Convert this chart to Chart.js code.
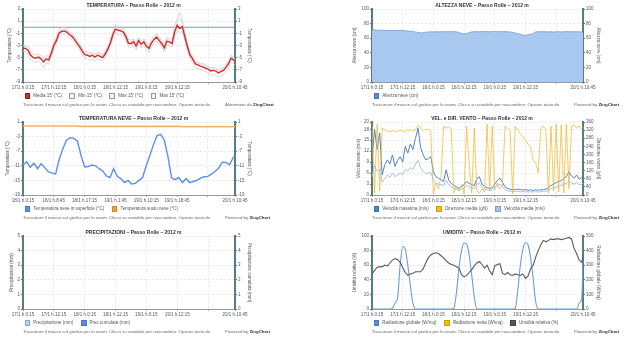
<!DOCTYPE html>
<html><head><meta charset="utf-8">
<script src="https://cdn.jsdelivr.net/npm/chart.js@4.4.1/dist/chart.umd.min.js"></script>
<style>
html,body{margin:0;padding:0;background:#fff;width:640px;height:342px;overflow:hidden;font-family:'Liberation Sans',Arial,sans-serif;}
canvas{position:absolute;}
.ttl{position:absolute;height:7px;line-height:7px;font-size:5px;font-weight:bold;color:#333;white-space:nowrap;transform:translateX(-50%);}
.leg{position:absolute;height:6px;display:flex;align-items:center;font-size:4.5px;color:#555;white-space:nowrap;}
.leg .it{display:flex;align-items:center;margin-right:7.5px;}
.leg .bx{width:3.8px;height:3.8px;border:0.7px solid #888;margin-right:3px;}
.ft{position:absolute;height:6px;line-height:6px;font-size:4.4px;color:#666;white-space:nowrap;}
.ft b{color:#333;}
</style>
</head><body>
<script>
// ---------- DATA ----------
const HOURS_A = Array.from({length: 83}, (_, i) => i).concat([82.5]); // 17/1 h.0:15 -> 20/1 h.10:45
const HOURS_B = Array.from({length: 59}, (_, i) => i).concat([58.5]); // 18/1 h.0:15 -> 20/1 h.10:45

const TICK_HOURS_A = [0, 12, 24, 36, 48, 60, 72, 82.5];
const TICK_LABELS_A = ['17/1 h.0:15','17/1 h.12:15','18/1 h.0:15','18/1 h.12:15','19/1 h.0:15','19/1 h.12:15','','20/1 h.10:45'];
const TICK_HOURS_B = [0, 8.5, 17, 25.5, 34, 42.5, 51, 58.5];
const TICK_LABELS_B = ['18/1 h.0:15','18/1 h.8:45','18/1 h.17:15','19/1 h.1:45','19/1 h.10:15','19/1 h.18:45','','20/1 h.10:45'];

const TEMP_MEDIA = [
 -3.4,-3.5,-3.8,-4.6,-5.0,-5.1,-4.9,-5.2,-5.7,-5.2,
 -5.4,-4.3,-3.0,-2.2,-1.0,-0.7,-0.6,-0.8,-1.2,-1.5,
 -2.0,-2.6,-3.2,-3.9,-4.5,-4.6,-4.8,-4.6,-4.9,-4.6,
 -4.8,-5.0,-4.4,-3.6,-2.6,-1.2,-0.3,-0.5,-0.6,-0.8,
 -1.5,-2.6,-2.7,-2.4,-3.1,-2.2,-2.8,-2.4,-3.1,-3.5,
 -2.6,-2.0,-1.6,-2.2,-2.7,-3.4,-2.3,-2.4,-2.7,-0.8,
  0.3,-0.2, 0.1,-1.6,-3.2,-4.6,-5.2,-6.0,-6.2,-6.4,
 -6.5,-6.7,-6.9,-7.2,-7.1,-7.2,-7.5,-7.3,-7.1,-6.6,
 -6.0,-5.1,-5.4,-5.6];
const TEMP_MIN = [
 -3.9,-4.0,-4.4,-5.3,-5.6,-5.8,-5.5,-5.9,-6.6,-5.9,
 -6.1,-4.9,-3.6,-2.7,-1.5,-1.2,-1.1,-1.3,-1.7,-2.0,
 -2.5,-3.1,-3.7,-4.4,-5.1,-5.2,-5.4,-5.2,-5.5,-5.2,
 -5.4,-5.6,-5.0,-4.1,-3.1,-1.8,-0.9,-1.1,-1.2,-1.3,
 -2.1,-3.2,-3.3,-3.0,-3.7,-2.8,-3.4,-3.0,-3.7,-4.1,
 -3.2,-2.6,-2.2,-2.8,-3.3,-4.0,-2.9,-3.0,-3.3,-1.5,
 -0.5,-0.9,-0.7,-2.3,-3.9,-5.2,-5.8,-6.6,-6.8,-7.0,
 -7.1,-7.3,-7.5,-7.9,-7.8,-7.9,-8.2,-8.0,-7.8,-7.3,
 -6.6,-5.7,-6.0,-6.2];
const TEMP_MAX = [
 -2.9,-3.0,-3.2,-4.0,-4.4,-4.5,-4.3,-4.6,-5.0,-4.6,
 -4.8,-3.7,-2.4,-1.6,-0.4,-0.1, 0.0,-0.3,-0.7,-1.0,
 -1.5,-2.1,-2.7,-3.4,-4.0,-4.1,-4.3,-4.1,-4.4,-4.1,
 -4.3,-4.5,-3.9,-3.1,-2.0,-0.6, 0.4, 0.1, 0.0,-0.3,
 -1.0,-2.0,-2.1,-1.9,-2.5,-1.6,-2.2,-1.8,-2.5,-2.9,
 -2.0,-1.4,-1.0,-1.6,-2.1,-2.8,-1.7,-1.8,-2.0, 0.2,
  1.4, 2.4, 1.2,-0.9,-2.6,-4.0,-4.7,-5.4,-5.7,-5.9,
 -6.0,-6.2,-6.4,-6.7,-6.6,-6.7,-7.0,-6.8,-6.6,-6.1,
 -5.5,-4.6,-4.9,-5.1];
const TEMP_MAX2 = [
 -3.1,-3.2,-3.5,-4.3,-4.7,-4.8,-4.6,-4.9,-5.3,-4.9,
 -5.1,-4.0,-2.7,-1.9,-0.7,-0.4,-0.3,-0.5,-0.9,-1.2,
 -1.7,-2.3,-2.9,-3.6,-4.2,-4.3,-4.5,-4.3,-4.6,-4.3,
 -4.5,-4.7,-4.1,-3.3,-2.3,-0.9, 0.0,-0.2,-0.3,-0.5,
 -1.2,-2.3,-2.4,-2.1,-2.8,-1.9,-2.5,-2.1,-2.8,-3.2,
 -2.3,-1.7,-1.3,-1.9,-2.4,-3.1,-2.0,-2.1,-2.4,-0.3,
  0.8, 1.5, 0.6,-1.3,-2.9,-4.3,-4.9,-5.7,-5.9,-6.1,
 -6.2,-6.4,-6.6,-6.9,-6.8,-6.9,-7.2,-7.0,-6.8,-6.3,
 -5.7,-4.8,-5.1,-5.3];

const SNOW_HEIGHT = [
 71,71.5,71,70.8,71,70.6,70.8,70.5,70.7,
 70.5,70.6,70.3,70.6,70.2,69.8,69.5,
 69,68.5,67.8,67.2,67.5,68.2,68.5,
 68.8,68.6,68.9,68.7,68.8,68.9,68.7,68.8,68.9,69,68.7,
 67.8,66.5,65.8,66.3,67.8,
 68.6,68.8,69,68.8,69,68.9,69,68.8,69,69.1,68.9,69,68.8,69,68.7,68.5,68,
 67,66.2,65.5,64.5,63.5,64.8,65.2,66.5,68.5,
 69,68.8,69,68.8,68.6,68.8,68.4,68.7,68.9,68.6,68.8,68.9,68.7,68.9,68.8,68.9,68.7,68.5,
 67];

const SNOW_SURF = [
 -10.8,-9.9,-11.4,-10.3,-11.8,-10.4,-11.5,-12.6,-13.0,-13.2,
 -9.2,-6.3,-4.0,-3.3,-3.5,-4.2,-8.1,-11.3,-11.2,-10.8,
 -11.0,-11.8,-12.4,-13.8,-14.2,-11.8,-13.9,-14.5,-15.6,-15.0,
 -16.0,-15.8,-15.0,-14.2,-11.0,-8.2,-5.2,-2.7,-2.4,-4.0,
 -8.5,-14.3,-14.8,-14.2,-15.6,-14.5,-15.6,-15.3,-15.0,-14.4,
 -14.0,-13.9,-13.3,-12.5,-11.6,-10.0,-10.1,-10.7,-8.8,-8.3];
const SNOW_SOIL = [
 -0.1,-0.1,-0.1,-0.1,-0.1,-0.1,-0.1,-0.1,-0.1,-0.1,
 -0.1,-0.1,-0.1,-0.1,-0.1,-0.1,-0.2,-0.2,-0.2,-0.2,
 -0.2,-0.2,-0.2,-0.2,-0.2,-0.2,-0.2,-0.2,-0.2,-0.2,
 -0.2,-0.2,-0.2,-0.2,-0.2,-0.2,-0.2,-0.2,-0.2,-0.2,
 -0.2,-0.2,-0.2,-0.2,-0.3,-0.3,-0.3,-0.3,-0.3,-0.3,
 -0.3,-0.3,-0.3,-0.3,-0.3,-0.3,-0.3,-0.3,-0.3,-0.3];

const WIND_MAX = [
 9.0,18.0,12.5,17.0,5.5,8.3,9.6,8.5,11.0,7.8,
 9.5,10.5,9.0,13.3,11.5,14.0,12.4,15.5,18.3,13.0,
 11.0,9.6,10.0,10.5,6.4,5.0,4.6,4.2,3.7,6.9,
 4.1,3.2,2.6,2.2,1.8,2.4,2.8,3.7,3.2,2.8,
 2.6,4.5,5.0,3.0,2.3,2.0,1.8,1.9,3.0,4.0,
 4.6,3.5,2.2,1.8,1.6,1.4,1.5,1.6,1.5,1.4,
 1.5,1.3,1.4,1.2,1.4,1.3,1.4,1.5,1.6,2.0,
 2.6,3.0,3.4,3.7,4.0,4.5,5.0,6.4,5.2,4.6,
 5.5,4.3,4.8,5.0];
const WIND_DIR = [
 340,10,350,20,330,320,315,312,318,310,
 315,320,316,312,322,318,315,320,345,330,
 318,322,325,310,5,60,30,90,340,330,
 335,325,10,40,20,50,5,340,150,10,
 330,20,10,30,15,350,20,340,25,60,
 30,45,340,330,320,5,340,320,300,290,
 270,250,240,170,160,110,330,340,320,10,
 340,20,350,15,345,10,350,30,340,345,
 330,340,325,335];
const WIND_AVG = [
 5.0,8.0,6.5,7.0,3.5,4.5,5.5,4.8,6.0,5.0,
 5.5,6.0,5.5,7.0,6.5,7.5,7.0,8.5,9.5,7.5,
 6.5,5.8,6.0,6.2,4.0,3.2,3.0,2.8,2.5,4.0,
 2.8,2.2,1.8,1.5,1.2,1.6,1.9,2.5,2.2,1.9,
 1.8,3.0,3.3,2.0,1.6,1.4,1.2,1.3,2.0,2.6,
 3.0,2.3,1.5,1.2,1.0,0.9,1.0,1.0,0.9,0.9,
 1.0,0.8,0.9,0.8,0.9,0.8,0.9,1.0,1.0,1.3,
 1.7,2.0,2.2,2.4,2.6,3.0,3.2,3.8,3.3,3.0,
 3.4,2.8,3.0,3.2];

const PRECIP = [];
const PRECIP_CUM = [];

const HUMIDITY = [
 48,53,57,58,58,60,59,63,67,69,
 68,64,57,50,46,48,49,51,51,51,
 55,63,70,74,76,77,76,73,70,66,
 63,61,60,58,56,47,44,46,50,54,
 59,63,65,61,56,60,52,47,59,61,
 62,49,47,50,47,46,48,47,46,48,
 42,45,55,60,71,80,88,94,92,94,
 96,95,96,96,95,96,97,98,96,83,
 76,67,64,71];
const RADIATION = [
 0,0,0,0,0,0,0,0,5,40,
 75,300,428,410,300,160,40,0,0,0,
 0,0,0,0,0,0,0,0,0,0,
 0,0,5,110,280,400,452,445,370,230,
 80,0,0,0,0,0,0,0,0,0,
 0,0,0,0,0,0,5,130,300,410,
 455,440,350,210,50,0,0,0,0,0,
 0,0,0,0,0,0,0,0,0,0,
 0,40,70,330];
const RAD_NET = [];

// ---------- LAYOUT ----------
const COLS = [{canvasLeft: 0, plotLeft: 23, plotW: 212}, {canvasLeft: 349, plotLeft: 372, plotW: 211}];
const ROWS = [0, 113, 227];
const CANVAS_W = 254, CANVAS_H = 95, PAD_TOP = 9, YL_W = 23;
const TEAL = '#557f7f';
const TICK_FONT = 4.5, AXT_FONT = 4.5;

Chart.defaults.font.family = "'Liberation Sans', Arial, sans-serif";
Chart.defaults.font.size = TICK_FONT;
Chart.defaults.color = '#555';

const refLinePlugin = {
  id: 'refLine',
  beforeDatasetsDraw(chart) {
    const v = chart.config.options.refLineValue;
    if (v === undefined) return;
    const y = chart.scales.y.getPixelForValue(v);
    const ctx = chart.ctx, a = chart.chartArea;
    ctx.save(); ctx.strokeStyle = '#7f9c9c'; ctx.lineWidth = 1;
    ctx.beginPath(); ctx.moveTo(a.left, y); ctx.lineTo(a.right, y); ctx.stroke(); ctx.restore();
  }
};

function pts(hours, vals) { return vals.map((v, i) => ({x: hours[i], y: v})); }

const PANELS = [
 { col:0, row:0, title:'TEMPERATURA – Passo Rolle – 2012 m', xTicks:TICK_HOURS_A, xLabels:TICK_LABELS_A, xMax:82.5,
   yL:{min:-9,max:3,ticks:[-9,-7,-5,-3,-1,1,3],title:'Temperatura (°C)',tx:10},
   yR:{min:-9,max:3,ticks:[-9,-7,-5,-3,-1,1,3],title:'Temperatura (°C)'},
   ref:0, powered:'Alimentato da',
   ds:[
    {label:"Media 15' (°C)", h:HOURS_A, d:TEMP_MEDIA, c:'#d42a2a', w:1.4, box:['#d42a2a','#9a1a1a']},
    {label:"Min 15' (°C)", h:HOURS_A, d:TEMP_MIN, c:'#cdcdcd', w:0.8, box:['#f2f2f2','#999']},
    {label:"Max 15' (°C)", h:HOURS_A, d:TEMP_MAX, c:'#cdcdcd', w:0.8, box:['#f2f2f2','#999']},
    {label:"Max 15' (°C)", h:HOURS_A, d:TEMP_MAX2, c:'#d6d6d6', w:0.8, box:['#f2f2f2','#999']}
   ]},
 { col:1, row:0, title:'ALTEZZA NEVE – Passo Rolle – 2012 m', xTicks:TICK_HOURS_A, xLabels:TICK_LABELS_A, xMax:82.5,
   yL:{min:0,max:100,ticks:[0,20,40,60,80,100],title:'Altezza neve (cm)',tx:6},
   yR:{min:0,max:100,ticks:[0,20,40,60,80,100],title:'Altezza neve (cm)'},
   powered:'Powered by',
   ds:[
    {label:'Altezza neve (cm)', h:HOURS_A, d:SNOW_HEIGHT, c:'#7ea9de', w:1, fill:'#a8c8ef', box:['#5b8bd0','#4a78bb']}
   ]},
 { col:0, row:1, title:'TEMPERATURA NEVE – Passo Rolle – 2012 m', xTicks:TICK_HOURS_B, xLabels:TICK_LABELS_B, xMax:58.5,
   yL:{min:-19,max:1,ticks:[-19,-15,-11,-7,-3,1],title:'Temperatura (°C)',tx:7.3},
   yR:{min:-19,max:1,ticks:[-19,-15,-11,-7,-3,1],title:'Temperatura (°C)'},
   powered:'Powered by',
   ds:[
    {label:'Temperatura neve in superficie (°C)', h:HOURS_B, d:SNOW_SURF, c:'#5c8fee', w:1.4, box:['#5c8fee','#4a78d0']},
    {label:'Temperatura suolo neve (°C)', h:HOURS_B, d:SNOW_SOIL, c:'#f2b366', w:1.6, box:['#f0a030','#d08820']}
   ]},
 { col:1, row:1, title:'VEL. e DIR. VENTO – Passo Rolle – 2012 m', xTicks:TICK_HOURS_A, xLabels:TICK_LABELS_A, xMax:82.5,
   yL:{min:0,max:20,ticks:[0,3,6,9,12,15,18,20],title:'Velocità vento (m/s)',tx:10},
   yR:{min:0,max:360,ticks:[0,40,80,120,160,200,240,280,320,360],title:'Direzione vento (gN)'},
   powered:'Powered by',
   ds:[
    {label:'Velocità massima (m/s)', h:HOURS_A, d:WIND_MAX, c:'#4f86c6', w:1, box:['#4f86c6','#3d6fae'], order:3},
    {label:'Direzione media (gN)', h:HOURS_A, d:WIND_DIR, c:'rgba(240,185,50,0.85)', w:0.9, axis:'y1', box:['#f5c000','#d0a000'], order:2},
    {label:'Velocità media (m/s)', h:HOURS_A, d:WIND_AVG, c:'#a9c3e6', w:1, box:['#a9c3e6','#7ea0cc'], order:1}
   ]},
 { col:0, row:2, title:'PRECIPITAZIONI – Passo Rolle – 2012 m', xTicks:TICK_HOURS_A, xLabels:TICK_LABELS_A, xMax:82.5,
   yL:{min:0,max:5,ticks:[0,1,2,3,4,5],title:'Precipitazioni (mm)',tx:11.7},
   yR:{min:0,max:5,ticks:[0,1,2,3,4,5],title:'Precipitazione cumulata (mm)'},
   powered:'Powered by',
   ds:[
    {label:'Precipitazione (mm)', h:HOURS_A, d:PRECIP, c:'#a8c8ef', w:1, box:['#b9d2f0','#7ea9de']},
    {label:'Prec.cumulata (mm)', h:HOURS_A, d:PRECIP_CUM, c:'#5b8bd0', w:1, axis:'y1', box:['#5b8bd0','#4a78bb']}
   ]},
 { col:1, row:2, title:"UMIDITA' – Passo Rolle – 2012 m", xTicks:TICK_HOURS_A, xLabels:TICK_LABELS_A, xMax:82.5,
   yL:{min:0,max:100,ticks:[0,20,40,60,80,100],title:'Umidità relativa (%)',tx:6},
   yR:{min:0,max:500,ticks:[0,100,200,300,400,500],title:'Radiazione globale (W/mq)'},
   powered:'Powered by',
   ds:[
    {label:'Radiazione globale (W/mq)', h:HOURS_A, d:RADIATION, c:'#6b9fd6', w:1.1, axis:'y1', box:['#5b8fd0','#4a78bb'], order:3, mono:true},
    {label:'Radiazione netta (W/mq)', h:HOURS_A, d:RAD_NET, c:'#f5c000', w:1, axis:'y1', box:['#f5c000','#d0a000'], order:2},
    {label:'Umidità relativa (%)', h:HOURS_A, d:HUMIDITY, c:'#5a5a5a', w:1.1, box:['#555','#444'], order:1}
   ]}
];

const FOOT = 'Trascinare il mouse sul grafico per lo zoom. Clicca su variabile per nascondere. Opzioni tasto dx.';

function addDiv(cls, x, y, html) {
  const d = document.createElement('div'); d.className = cls;
  d.style.left = x + 'px'; d.style.top = y + 'px'; d.innerHTML = html;
  document.body.appendChild(d); return d;
}

PANELS.forEach((p) => {
  const col = COLS[p.col], top = ROWS[p.row];
  const cv = document.createElement('canvas');
  cv.width = CANVAS_W; cv.height = CANVAS_H;
  cv.style.left = col.canvasLeft + 'px'; cv.style.top = top + 'px';
  cv.style.width = CANVAS_W + 'px'; cv.style.height = CANVAS_H + 'px';
  document.body.appendChild(cv);
  const yRW = CANVAS_W - YL_W - col.plotW;

  const datasets = p.ds.map(s => ({
    label: s.label,
    data: pts(s.h, s.d),
    borderColor: s.c,
    backgroundColor: s.fill || s.c,
    borderWidth: s.w,
    pointRadius: 0,
    fill: s.fill ? 'origin' : false,
    yAxisID: s.axis || 'y',
    order: s.order || 0,
    tension: 0,
    cubicInterpolationMode: s.mono ? 'monotone' : 'default'
  }));

  const yAxis = (cfg, pos) => ({
    type: 'linear', position: pos, min: cfg.min, max: cfg.max,
    afterBuildTicks: ax => { ax.ticks = cfg.ticks.map(v => ({value: v})); },
    afterFit: ax => { ax.width = pos === 'left' ? YL_W : yRW; },
    ticks: { color: '#555', font: {size: TICK_FONT}, padding: 1, autoSkip: false },
    grid: { drawOnChartArea: pos === 'left', color: '#e2e2e2', lineWidth: 0.8, tickLength: 2, tickColor: TEAL, tickWidth: 1 },
    border: { display: true, color: TEAL, width: 2, dash: [2, 2] },
    title: { display: true, text: cfg.title, color: '#555', font: {size: AXT_FONT},
             padding: pos === 'left' ? {top: cfg.tx - 2.7, bottom: 0} : {top: 2, bottom: 0} }
  });

  const options = {
    responsive: false, animation: false, devicePixelRatio: 1,
    layout: { padding: {top: PAD_TOP, left: 0, right: 0, bottom: 0} },
    plugins: { legend: {display: false}, title: {display: false}, tooltip: {enabled: false} },
    scales: {
      x: {
        type: 'linear', min: 0, max: p.xMax,
        afterBuildTicks: ax => { ax.ticks = p.xTicks.map(v => ({value: v})); },
        afterFit: ax => { ax.height = CANVAS_H - PAD_TOP - 73; },
        ticks: { autoSkip: false, maxRotation: 0, minRotation: 0, padding: 1.5, color: '#555', font: {size: TICK_FONT},
                 callback: (v, i) => p.xLabels[i] },
        grid: { color: '#dadada', lineWidth: 0.8, tickLength: 2, tickColor: '#999' },
        border: { display: true, color: '#9a9a9a', width: 1, dash: [1, 1.5] }
      },
      y: yAxis(p.yL, 'left'),
      y1: yAxis(p.yR, 'right')
    }
  };
  if (p.ref !== undefined) options.refLineValue = p.ref;

  new Chart(cv, { type: 'line', data: { datasets }, options, plugins: [refLinePlugin] });

  addDiv('ttl', col.plotLeft + col.plotW / 2 + 4.5, top + 1.5, p.title);
  const lg = addDiv('leg', col.plotLeft + 1.5, top + 93, '');
  p.ds.forEach(s => {
    const it = document.createElement('span'); it.className = 'it';
    it.innerHTML = '<span class="bx" style="background:' + s.box[0] + ';border-color:' + s.box[1] + '"></span>' + s.label;
    lg.appendChild(it);
  });
  addDiv('ft', col.plotLeft, top + 102, FOOT);
  addDiv('ft', col.plotLeft + 202, top + 102, p.powered + ' <b>ZingChart</b>');
});
</script>
</body></html>
